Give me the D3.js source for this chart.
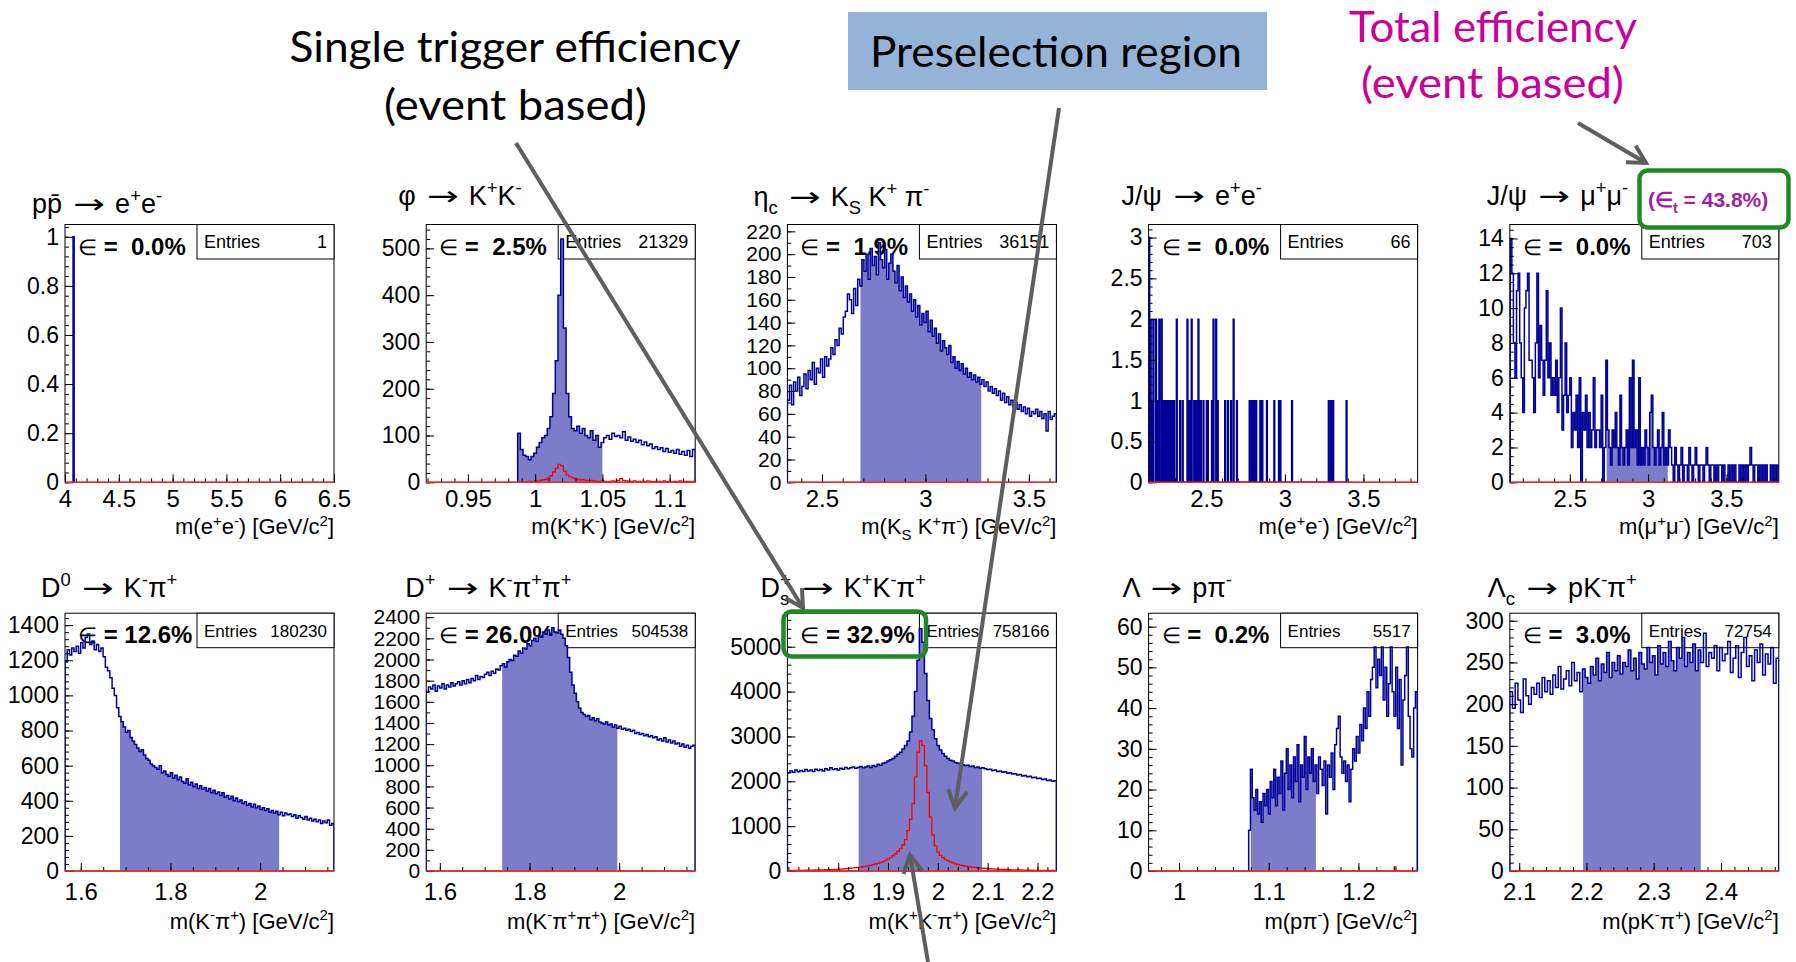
<!DOCTYPE html>
<html>
<head>
<meta charset="utf-8">
<script src="https://cdn.jsdelivr.net/npm/d3@7/dist/d3.min.js"></script>
<style>
  body { margin: 0; background: #fff; }
  svg { display: block; }
  text { white-space: pre; }
  .ax text { font-family: "Liberation Sans", Arial, sans-serif; font-size: 24px; fill: #000; }
  .ax.yl text { font-size: 23px; }
  .ax.yl.dense text { font-size: 21px; }
  .ax path.domain { display: none; }
  .ax line { stroke: #000; }
</style>
</head>
<body>
<svg id="chart" width="1796" height="962"></svg>
<script>
// ---- values ----
var decays = ["pp\u0304 → e^{+}e^{-}", "φ → K^{+}K^{-}", "η_{c} → K_{S} K^{+} π^{-}", "J/ψ → e^{+}e^{-}", "J/ψ → μ^{+}μ^{-}",
  "D^{0} → K^{-}π^{+}", "D^{+} → K^{-}π^{+}π^{+}", "D_{s}^{+} → K^{+}K^{-}π^{+}", "Λ → pπ^{-}", "Λ_{c} → pK^{-}π^{+}"];
var massTitles = ["m(e^{+}e^{-}) [GeV/c^{2}]", "m(K^{+}K^{-}) [GeV/c^{2}]", "m(K_{S} K^{+}π^{-}) [GeV/c^{2}]", "m(e^{+}e^{-}) [GeV/c^{2}]",
  "m(μ^{+}μ^{-}) [GeV/c^{2}]", "m(K^{-}π^{+}) [GeV/c^{2}]", "m(K^{-}π^{+}π^{+}) [GeV/c^{2}]", "m(K^{+}K^{-}π^{+}) [GeV/c^{2}]",
  "m(pπ^{-}) [GeV/c^{2}]", "m(pK^{-}π^{+}) [GeV/c^{2}]"];
var entries = [1, 21329, 36151, 66, 703, 180230, 504538, 758166, 5517, 72754];
var efficiencies = [0.0, 2.5, 1.9, 0.0, 0.0, 12.6, 26.0, 32.9, 0.2, 3.0];
var totalEfficiency = 43.8;

var xRanges = [[4, 6.5], [0.919, 1.119], [2.333, 3.633], [2.132, 3.845], [2.117, 3.834],
  [1.5648, 2.1648], [1.5696, 2.1696], [1.698, 2.238], [0.966, 1.266], [2.086, 2.486]];
var yMaxes = [1.05, 551, 226, 3.16, 14.8, 1468, 2438, 5747, 63.3, 309];
var xMajorTicks = [[4, 4.5, 5, 5.5, 6, 6.5], [0.95, 1, 1.05, 1.1], [2.5, 3, 3.5], [2.5, 3, 3.5], [2.5, 3, 3.5],
  [1.6, 1.8, 2], [1.6, 1.8, 2], [1.8, 1.9, 2, 2.1, 2.2], [1, 1.1, 1.2], [2.1, 2.2, 2.3, 2.4]];
var xMinorSteps = [0.1, 0.01, 0.1, 0.1, 0.1, 0.05, 0.05, 0.02, 0.02, 0.02];
var yMajorSteps = [0.2, 100, 20, 0.5, 2, 200, 200, 1000, 10, 50];
var yMinorSteps = [0.04, 20, 10, 0.1, 0.5, 40, 100, 200, 2, 10];
// preselection windows (filled part)
var windows = [null, [0.987, 1.05], [2.686, 3.27], [2.735, 3.125], [2.735, 3.125],
  [1.6875, 2.0425], [1.739, 1.996], [1.841, 2.089], [1.080, 1.1526], [2.195, 2.370]];

var ppHits = [[4.075, 1]];
var ppBin = 0.01;

var phiStart = 0.987, phiBin = 0.002;
var phiCounts = [105,70,58,55,48,55,62,75,85,95, 100,115,140,190,260,400,520,330,190,140,
  115,110,120,105,115,100,95,110,90,100, 75,85,95,100,92,105,98,100,95,108,
  90,97,88,92,85,90,80,86,78,82, 72,76,70,74,66,72,64,68,62,70, 60,66,58,68,55,70];
var phiTruth = [0,0,0,1,2,1,3,2,4,5, 6,9,14,22,30,38,35,24,16,12, 10,8,6,5,6,4,3,4,3,2,
  2,3,2,1,2,3,2,4,8,4, 3,2,2,3,1,2,2,1,3,2, 1,2,2,1,3,1,2,1,2,1, 3,1,2,2,1,2];

var etacStart = 2.333, etacBin = 0.01;
var etacCounts = [72,85,68,88,80,92,76,84,95,82, 98,90,105,86,100,96,108,92,110,102,
  108,118,112,125,120,135,130,145,150,165, 160,148,170,155,178,172,195,185,200,178,
  205,190,198,182,210,195,188,204,178,192, 200,185,175,190,168,180,162,172,158,165,
  150,160,145,155,138,148,140,150,132,142, 128,135,122,130,115,124,118,112,120,105,
  110,100,106,98,104,95,100,92,96,90, 94,88,92,86,90,84,88,80,84,78,
  82,76,80,72,78,70,75,68,72,66, 70,64,68,62,66,60,65,58,62,60, 64,58,62,56,60,45,62,55,58,60];

var jpsiEEBin = 0.005;
var jpsiEEHits = [[2.134,3],[2.143,2],[2.151,1],[2.160,2],[2.177,2],[2.187,1],[2.198,2],[2.213,2],[2.224,1],
  [2.236,1],[2.249,1],[2.262,1],[2.268,1],[2.277,1],[2.285,1],[2.292,1],[2.309,2],[2.330,1],[2.347,1],
  [2.377,2],[2.390,1],[2.404,2],[2.420,1],[2.426,1],[2.436,1],[2.447,2],[2.455,1],[2.462,1],[2.479,1],
  [2.500,1],[2.507,1],[2.533,1],[2.543,2],[2.560,2],[2.570,1],[2.617,1],[2.635,1],[2.655,1],[2.671,2],
  [2.692,1],[2.773,1],[2.785,1],[2.798,1],[2.806,1],[2.815,1],[2.841,1],[2.854,1],[2.883,1],[2.930,1],
  [2.960,1],[2.969,1],[3.043,1],[3.277,1],[3.292,1],[3.305,1],[3.390,1]];

var jpsiMMStart = 2.12, jpsiMMBin = 0.01;
var jpsiMMCounts = [14,12,8,6,11,12,8,6,4,10, 11,12,7,7,6,4,8,12,6,9, 7,5,7,11,6,8,5,6,5,7,
  4,6,10,3,5,8,4,5,6,2, 4,3,5,2,6,0,4,3,5,2, 4,2,3,6,2,3,3,2,5,0, 2,7,3,2,1,3,2,4,2,1,
  5,2,1,2,3,1,6,2,7,2, 3,1,6,1,2,1,3,2,1,4, 5,2,1,2,3,1,2,4,1,2, 1,3,2,1,0,2,1,0,1,2,
  0,1,1,0,2,1,0,1,2,1, 0,1,1,0,1,2,1,0,1,1, 0,1,0,1,1,0,1,0,0,1, 0,1,0,1,0,0,1,0,1,0,
  1,0,1,2,1,0,1,1,0,1, 0,1,0,1,0,0,1,0,1,0, 1,0];

var d0Start = 1.5648, d0Bin = 0.005;
var d0Counts = [1190,1260,1230,1270,1250,1280,1240,1300,1270,1330, 1350,1290,1310,1260,1290,1250,1270,1220,1160,1140,
  1100,1040,1000,930,880,850,820,790,800,760, 740,720,700,680,690,660,640,630,610,600,
  590,580,600,560,570,550,540,560,530,545, 520,535,510,500,525,490,505,480,495,470,
  485,465,475,455,470,445,460,440,450,430, 445,420,430,410,425,400,415,395,405,385,
  395,375,385,365,380,360,370,350,360,345, 355,335,345,330,340,320,335,315,330,320,
  325,310,320,300,315,305,295,310,290,300, 285,295,280,290,270,285,275,290,260,270];

var dpStart = 1.5696, dpBin = 0.005;
var dpCounts = [1690,1740,1720,1760,1700,1750,1730,1770,1720,1760, 1740,1780,1750,1770,1790,1760,1800,1770,1810,1780,
  1820,1800,1850,1810,1840,1830,1860,1880,1850,1890, 1870,1910,1900,1940,1960,1930,1980,2000,1990,2040,
  2030,2080,2060,2110,2100,2150,2130,2180,2200,2170, 2220,2210,2260,2240,2280,2230,2300,2260,2250,2280,
  2240,2200,2130,2020,1880,1760,1680,1600,1540,1500, 1480,1460,1470,1430,1450,1420,1440,1410,1400,1390,
  1410,1380,1390,1360,1380,1350,1370,1340,1350,1330, 1340,1320,1330,1300,1310,1290,1300,1280,1290,1270,
  1280,1260,1270,1240,1250,1230,1260,1220,1240,1210, 1230,1200,1210,1180,1200,1170,1190,1160,1180,1190];

var dsStart = 1.698, dsBin = 0.005;
var dsCounts = [2190,2230,2200,2250,2210,2240,2220,2260,2230,2250, 2220,2270,2240,2260,2230,2280,2250,2300,2260,2280,
  2250,2290,2270,2310,2280,2300,2320,2290,2310,2330, 2300,2320,2340,2310,2350,2330,2380,2360,2400,2420,
  2450,2480,2510,2560,2600,2650,2720,2800,2900,3100, 3450,4000,4700,5400,5100,4400,3800,3400,3150,2950,
  2800,2700,2620,2560,2510,2470,2450,2420,2400,2390, 2370,2350,2360,2330,2340,2310,2320,2290,2300,2280,
  2260,2270,2240,2250,2220,2230,2200,2210,2180,2190, 2160,2170,2140,2150,2120,2130,2100,2110,2080,2090,
  2060,2070,2040,2050,2020,2030,2000,2010];
var dsTruth = [10,12,8,15,10,14,12,18,15,20, 18,22,20,25,22,28,25,30,28,35, 38,42,46,52,58,64,70,75,80,88,
  95,105,115,125,140,156,172,190,210,235, 265,300,340,385,440,500,580,700,900,1150,
  1500,2100,2650,2900,2800,2350,1750,1200,800,560, 420,350,300,260,230,205,180,160,145,130,
  118,108,100,92,86,80,74,68,63,58, 54,50,46,43,40,37,35,33,31,29, 27,25,24,22,21,20,19,18,17,16,
  15,14,14,13,12,12,11,10];

var lamStart = 1.0776, lamBin = 0.002;
var lamCounts = [10,25,18,15,20,14,17,12,19,16, 20,14,22,18,25,16,23,19,27,15, 24,30,20,26,18,28,22,31,17,26,
  23,33,20,28,24,30,22,26,19,28, 25,21,27,14,26,23,29,20,31,35, 38,28,24,27,22,26,17,25,30,27,
  33,29,36,32,40,35,44,38,47,50, 55,45,52,48,55,42,50,38,46,55, 44,38,50,35,47,26,42,48,55,38, 30,28,40,44];
var lamTruthHits = [[1.240, 1]];

var lcStart = 2.086, lcBin = 0.004;
var lcCounts = [215,195,225,205,190,230,210,200,220,212, 225,208,232,215,228,212,235,220,245,218,
  230,240,222,250,228,238,215,242,232,225, 245,235,255,228,248,238,262,232,250,240,
  258,236,250,245,265,240,255,230,262,248, 242,268,250,258,235,270,248,262,245,275,
  252,240,268,255,280,245,262,250,272,240, 265,250,285,245,262,255,270,240,268,252,
  260,275,238,255,270,232,262,280,245,258, 228,265,250,272,235,260,248,268,225,255];

// ---- helpers ----
function fromCounts(start, width, counts) {
  return counts.map(function (v, k) { return { x0: start + k * width, x1: start + (k + 1) * width, v: v }; });
}
function fromHits(hits, width) {
  return hits.map(function (h) { return { x0: h[0], x1: h[0] + width, v: h[1] }; });
}
function stepPoints(bins) {
  var pts = [], prev = null;
  bins.forEach(function (b) {
    if (prev === null) pts.push([b.x0, 0]);
    else if (b.x0 > prev + 1e-9) { pts.push([prev, 0]); pts.push([b.x0, 0]); }
    pts.push([b.x0, b.v]); pts.push([b.x1, b.v]);
    prev = b.x1;
  });
  if (prev !== null) pts.push([prev, 0]);
  return pts;
}
function inWindow(bins, w) {
  return bins.filter(function (b) { return b.x1 > w[0] && b.x0 < w[1]; })
    .map(function (b) { return { x0: Math.max(b.x0, w[0]), x1: Math.min(b.x1, w[1]), v: b.v }; });
}
// ROOT-like latex: ^{..} superscript, _{..} subscript, long thin arrow
function rich(textSel, str, size) {
  var re = /([_^])\{([^}]*)\}/g, last = 0, m, cur = 0, lastEnd = -1, prevNode = null, lastWasSub = false;
  function plain(s) {
    var afterArrow = false;
    s.split(/(→)/).forEach(function (part) {
      if (!part) return;
      var t = textSel.append("tspan").text(part);
      if (cur) { t.attr("dy", -cur); cur = 0; }
      if (part === "→") {
        t.style("font-family", "'DejaVu Sans', sans-serif").attr("dx", size * 0.15)
          .attr("textLength", size * 1.18).attr("lengthAdjust", "spacingAndGlyphs");
        afterArrow = true;
      } else if (afterArrow) {
        t.attr("dx", size * 0.08);
        afterArrow = false;
      }
    });
  }
  function seg(s, off, stackOn) {
    var t = textSel.append("tspan").text(s);
    var target = off * size;
    if (target - cur) t.attr("dy", target - cur);
    t.style("font-size", (size * 0.68) + "px");
    if (stackOn) t.attr("dx", -stackOn.getComputedTextLength());
    cur = target;
    return t.node();
  }
  while ((m = re.exec(str)) !== null) {
    if (m.index > last) { plain(str.slice(last, m.index)); lastWasSub = false; }
    var isSup = m[1] === "^";
    var stack = isSup && lastWasSub && m.index === lastEnd;
    prevNode = seg(m[2], isSup ? -0.4 : 0.28, stack ? prevNode : null);
    lastWasSub = !isSup;
    lastEnd = last = re.lastIndex;
  }
  if (last < str.length) plain(str.slice(last));
}

var hists = [fromHits(ppHits, ppBin), fromCounts(phiStart, phiBin, phiCounts), fromCounts(etacStart, etacBin, etacCounts),
  fromHits(jpsiEEHits, jpsiEEBin), fromCounts(jpsiMMStart, jpsiMMBin, jpsiMMCounts), fromCounts(d0Start, d0Bin, d0Counts),
  fromCounts(dpStart, dpBin, dpCounts), fromCounts(dsStart, dsBin, dsCounts), fromCounts(lamStart, lamBin, lamCounts),
  fromCounts(lcStart, lcBin, lcCounts)];
var truths = [null, fromCounts(phiStart, phiBin, phiTruth), null, null, null, null, null,
  fromCounts(dsStart, dsBin, dsTruth), fromHits(lamTruthHits, 0.002), null];

// layout
var titleShift = [-33, -28, -34, -27, -23, -24, -21, -27, -26, -22];
var titleBase = [213, 205, 206, 205, 205, 597, 597, 597, 597, 597];

var svg = d3.select("#chart");
var fmt = d3.format("~g");
var navy = "#000099", hatch = "#7c7cc8";
var font = "'Liberation Sans', Arial, sans-serif";

hists.forEach(function (bins, i) {
  var left = 65 + (i % 5) * 361.2, top = i < 5 ? 224.5 : 613.2;
  var w = 269, h = 257.8, right = left + w, bottom = top + h;
  var x = d3.scaleLinear().domain(xRanges[i]).range([left, right]);
  var y = d3.scaleLinear().domain([0, yMaxes[i]]).range([bottom, top]);
  var g = svg.append("g");
  var statSize = i < 5 ? "18px" : "17px";
  var dense = (y(0) - y(yMajorSteps[i])) < 24;

  g.append("rect").attr("x", left).attr("y", top).attr("width", w).attr("height", h)
    .attr("fill", "#fff").attr("stroke", "#000").attr("stroke-width", 1);

  // stats box
  g.append("rect").attr("x", left + 132).attr("y", top).attr("width", w - 132).attr("height", 34.5)
    .attr("fill", "#fff").attr("stroke", "#000").attr("stroke-width", 1);
  g.append("text").attr("x", left + 139).attr("y", top + 23.5).style("font-family", font).style("font-size", statSize)
    .text("Entries");
  g.append("text").attr("x", right - 7).attr("y", top + 23.5).attr("text-anchor", "end")
    .style("font-family", font).style("font-size", statSize).text(entries[i]);

  // efficiency label
  var eff = g.append("text").attr("x", left + 13).attr("y", top + 30).style("font-family", font);
  eff.append("tspan").style("font-size", "22px").text("∈");
  eff.append("tspan").style("font-size", "24px").style("font-weight", "bold")
    .text(" = " + d3.format("4.1f")(efficiencies[i]) + "%");

  // histograms
  var clipId = "clip" + i;
  g.append("clipPath").attr("id", clipId).append("rect")
    .attr("x", left).attr("y", top).attr("width", w).attr("height", h);
  var hg = g.append("g").attr("clip-path", "url(#" + clipId + ")");
  var line = d3.line().x(function (d) { return x(d[0]); }).y(function (d) { return y(d[1]); });
  var area = d3.area().x(function (d) { return x(d[0]); }).y0(y(0)).y1(function (d) { return y(d[1]); });
  if (windows[i]) {
    hg.append("path").attr("d", area(stepPoints(inWindow(bins, windows[i])))).attr("fill", hatch);
  }
  hg.append("path").attr("d", line(stepPoints(bins))).attr("fill", "none")
    .attr("stroke", navy).attr("stroke-width", 1.5);

  // axes
  var yMaj = d3.range(0, yMaxes[i] + 1e-9, yMajorSteps[i]);
  var yMin = d3.range(0, yMaxes[i], yMinorSteps[i]);
  var lo = xRanges[i][0], hi = xRanges[i][1], st = xMinorSteps[i];
  var xMin = d3.range(Math.ceil(lo / st - 1e-6) * st, hi + 1e-9, st);
  g.append("g").attr("class", "ax").attr("transform", "translate(" + left + ",0)")
    .call(d3.axisLeft(y).tickValues(yMin).tickSize(-4).tickFormat(""));
  g.append("g").attr("class", dense ? "ax yl dense" : "ax yl").attr("transform", "translate(" + left + ",0)")
    .call(d3.axisLeft(y).tickValues(yMaj).tickSize(-8).tickPadding(6).tickFormat(fmt));
  g.append("g").attr("class", "ax").attr("transform", "translate(0," + bottom + ")")
    .call(d3.axisBottom(x).tickValues(xMin).tickSize(-4).tickFormat(""));
  g.append("g").attr("class", "ax").attr("transform", "translate(0," + bottom + ")")
    .call(d3.axisBottom(x).tickValues(xMajorTicks[i]).tickSize(-8).tickPadding(i < 5 ? 8 : 12).tickFormat(fmt));

  // MC truth (red)
  g.append("line").attr("x1", left).attr("x2", right).attr("y1", bottom).attr("y2", bottom)
    .attr("stroke", "#ff2020").attr("stroke-width", 1.6);
  if (truths[i]) {
    hg.append("path").attr("d", line(stepPoints(truths[i]))).attr("fill", "none")
      .attr("stroke", "#ff0000").attr("stroke-width", 1.3);
  }

  // titles
  var t = g.append("text").attr("x", left + titleShift[i]).attr("y", titleBase[i])
    .style("font-family", font).style("font-size", "27px");
  rich(t, decays[i], 27);
  var xt = g.append("text").attr("x", right).attr("y", bottom + (i < 5 ? 52 : 58)).attr("text-anchor", "end")
    .style("font-family", font).style("font-size", "22px");
  rich(xt, massTitles[i], 22);
});

// ---- slide annotations ----
var gray = "#5e5e5e", green = "#1f8a24";
function note(txt, cx, by, len, color) {
  svg.append("text").attr("x", cx).attr("y", by).attr("text-anchor", "middle")
    .attr("textLength", len).attr("lengthAdjust", "spacingAndGlyphs")
    .style("font-family", "Lato, 'Open Sans', sans-serif").style("font-size", "42px")
    .attr("fill", color).text(txt);
}
function arrow(x1, y1, x2, y2) {
  var a = Math.atan2(y2 - y1, x2 - x1), L = 20, s = 0.5;
  svg.append("line").attr("x1", x1).attr("y1", y1).attr("x2", x2).attr("y2", y2)
    .attr("stroke", gray).attr("stroke-width", 4);
  svg.append("path").attr("d", "M" + (x2 - L * Math.cos(a - s)) + "," + (y2 - L * Math.sin(a - s)) +
      "L" + x2 + "," + y2 + "L" + (x2 - L * Math.cos(a + s)) + "," + (y2 - L * Math.sin(a + s)))
    .attr("fill", "none").attr("stroke", gray).attr("stroke-width", 4);
}

svg.append("rect").attr("x", 848).attr("y", 12).attr("width", 419).attr("height", 78).attr("fill", "#95b3d7");
note("Single trigger efficiency", 515, 62, 451, "#000");
note("(event based)", 515.5, 120, 263, "#000");
note("Preselection region", 1056, 67, 372, "#000");
note("Total efficiency", 1493, 42, 288, "#cc0099");
note("(event based)", 1492.5, 98, 263, "#cc0099");

// green highlight boxes
svg.append("rect").attr("x", 783.5).attr("y", 611.5).attr("width", 142.5).attr("height", 45)
  .attr("rx", 8).attr("fill", "none").attr("stroke", green).attr("stroke-width", 4.5);
svg.append("rect").attr("x", 1639.5).attr("y", 170.5).attr("width", 149).attr("height", 57)
  .attr("rx", 8).attr("fill", "#fff").attr("stroke", green).attr("stroke-width", 4.5);
var tot = svg.append("text").attr("x", 1648).attr("y", 207).attr("fill", "#a020a0")
  .style("font-family", font).style("font-size", "21px").style("font-weight", "bold");
rich(tot, "(∈_{t} = " + d3.format(".1f")(totalEfficiency) + "%)", 21);

arrow(516, 143, 803, 608);
arrow(1059, 108, 955, 808);
arrow(1578, 123, 1646, 163);
arrow(928, 962, 910, 855);
</script>
</body>
</html>
